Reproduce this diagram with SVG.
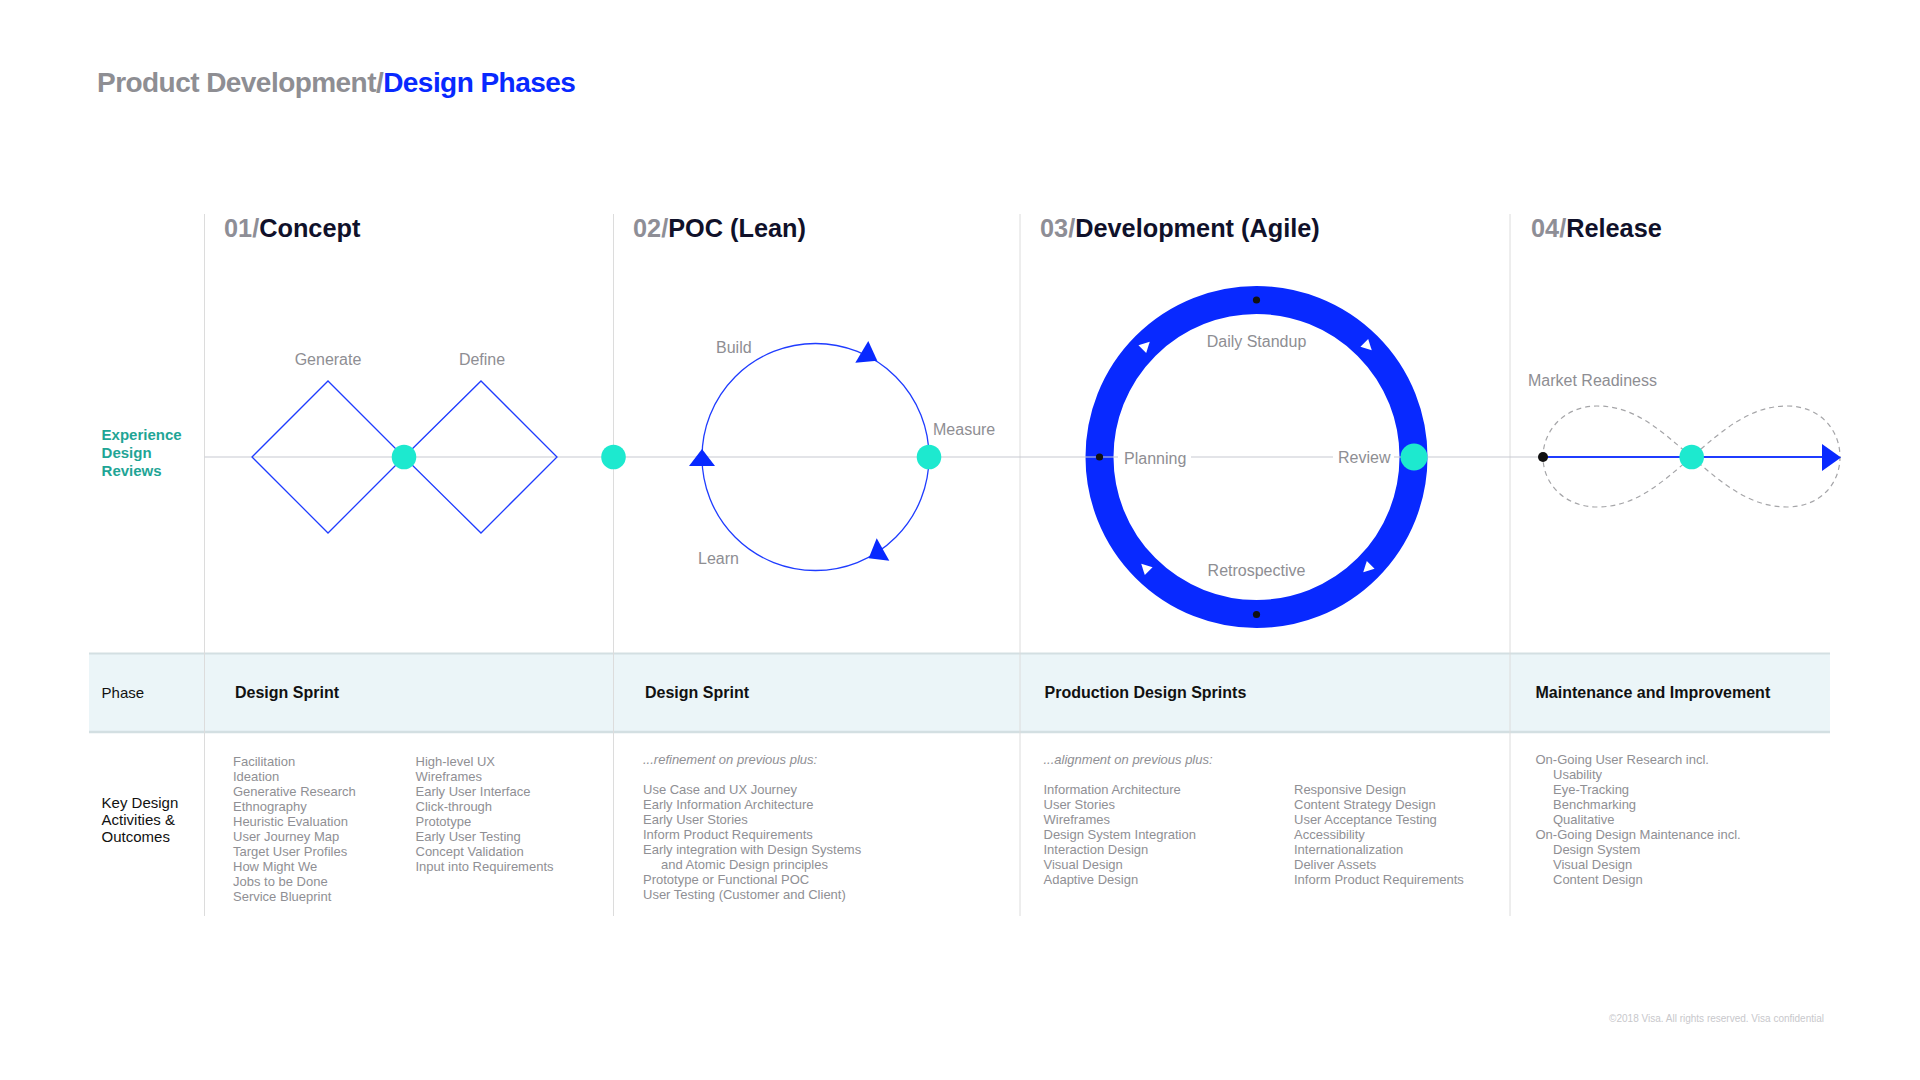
<svg xmlns="http://www.w3.org/2000/svg" width="1920" height="1080" viewBox="0 0 1920 1080">
<style>
text{font-family:"Liberation Sans",Arial,Helvetica,sans-serif}
.colline{stroke:#dcdcdc;stroke-width:1}
.axis{stroke:#c8cad2;stroke-width:1.2;fill:none}
.lbl{font-size:16px;fill:#8e8e93}
.hdr{font-size:25.3px;font-weight:bold;fill:#10112a}
.num{fill:#8e8e96}
.item{font-size:13px;fill:#8f8f94}
.ital{font-style:italic}
.teal{fill:#1de9cf}
.bline{stroke:#1f3cff;stroke-width:1.3;fill:none}
.blue{fill:#0829ff}
.dot{fill:#111}
.row{font-size:15px;fill:#111}
.phase{font-size:16px;font-weight:bold;fill:#111}
.side{font-size:15px;font-weight:bold;fill:#1fa596}
</style>
<defs>
<path id="wtri" d="M -4.5 -5.5 L 6 0 L -4.5 5.5 Z" fill="#fff"/>
</defs>
<rect width="1920" height="1080" fill="#fff"/>

<g id="title">
<text x="97" y="92" font-size="28" font-weight="bold" letter-spacing="-0.55"><tspan fill="#8e8e93">Product Development/</tspan><tspan fill="#0829ff">Design Phases</tspan></text>
</g>

<g id="table-band">
<rect x="89" y="653" width="1741" height="79" fill="#ebf5f8"/>
<line x1="89" y1="653.5" x2="1830" y2="653.5" stroke="#d3dfe2" stroke-width="2"/>
<line x1="89" y1="732" x2="1830" y2="732" stroke="#d3dfe2" stroke-width="2.5"/>
</g>

<g id="column-lines">
<line class="colline" x1="204.5" y1="214" x2="204.5" y2="916"/>
<line class="colline" x1="613.5" y1="214" x2="613.5" y2="916"/>
<line class="colline" x1="1020" y1="214" x2="1020" y2="916"/>
<line class="colline" x1="1510" y1="214" x2="1510" y2="916"/>
</g>

<g id="headers">
<text class="hdr" x="224" y="237"><tspan class="num">01/</tspan>Concept</text>
<text class="hdr" x="633" y="237"><tspan class="num">02/</tspan>POC (Lean)</text>
<text class="hdr" x="1040" y="237"><tspan class="num">03/</tspan>Development (Agile)</text>
<text class="hdr" x="1531" y="237"><tspan class="num">04/</tspan>Release</text>
</g>

<g id="side-labels">
<text class="side" x="101.6" y="440">Experience</text>
<text class="side" x="101.6" y="458">Design</text>
<text class="side" x="101.6" y="476">Reviews</text>
<text class="row" x="101.6" y="698">Phase</text>
<text class="row" x="101.6" y="808">Key Design</text>
<text class="row" x="101.6" y="825">Activities &amp;</text>
<text class="row" x="101.6" y="842">Outcomes</text>
</g>

<g id="agile-ring">
<circle cx="1256.5" cy="457" r="157" fill="none" stroke="#0829ff" stroke-width="28"/>
</g>

<g id="connectors">
<line class="axis" x1="204.5" y1="457" x2="1118" y2="457"/>
<line class="axis" x1="1191" y1="457" x2="1333" y2="457"/>
<line class="axis" x1="1394" y1="457" x2="1543" y2="457"/>
<path d="M1691.7,457 C1660,430 1635,406 1597,406 C1565,406 1543,430 1543,457 C1543,484 1565,507 1597,507 C1635,507 1660,484 1691.7,457 C1723,430 1750,406 1787,406 C1820,406 1840,430 1840,457 C1840,484 1820,507 1787,507 C1750,507 1723,484 1691.7,457 Z" fill="none" stroke="#a5a5a8" stroke-width="1.2" stroke-dasharray="5 4"/>
<line x1="1543" y1="457" x2="1824" y2="457" stroke="#1f3cff" stroke-width="2"/>
<polygon class="blue" points="1822,444 1841,457.5 1822,471"/>
</g>

<g id="concept">
<polygon class="bline" points="252,457 328,381 404,457 328,533"/>
<polygon class="bline" points="404,457 481,381 557,457 481,533"/>
<text class="lbl" x="328" y="365" text-anchor="middle">Generate</text>
<text class="lbl" x="482" y="365" text-anchor="middle">Define</text>
<circle class="teal" cx="404" cy="457" r="12.3"/>
</g>

<g id="review-gate">
<circle class="teal" cx="613.5" cy="457" r="12.3"/>
</g>

<g id="poc">
<circle class="bline" cx="815.5" cy="457" r="113.5"/>
<polygon class="blue" points="702,449 689,466 715,466"/>
<polygon class="blue" points="868.3,341 855.3,362.7 877.3,360.7"/>
<polygon class="blue" points="876.7,538.3 868.7,558.3 889.3,560.7"/>
<text class="lbl" x="716" y="353">Build</text>
<text class="lbl" x="933" y="435">Measure</text>
<text class="lbl" x="698" y="564">Learn</text>
<circle class="teal" cx="929" cy="457" r="12.3"/>
</g>

<g id="agile">
<circle class="dot" cx="1256.5" cy="300" r="3.6"/>
<circle class="dot" cx="1256.5" cy="614.5" r="3.6"/>
<circle class="dot" cx="1099.5" cy="457" r="3.6"/>
<use href="#wtri" transform="translate(1145.5,346) rotate(-45)"/>
<use href="#wtri" transform="translate(1367.5,346) rotate(45)"/>
<use href="#wtri" transform="translate(1367.5,568) rotate(135)"/>
<use href="#wtri" transform="translate(1145.5,568) rotate(-135)"/>
<text class="lbl" x="1256.5" y="347" text-anchor="middle">Daily Standup</text>
<text class="lbl" x="1256.5" y="576" text-anchor="middle">Retrospective</text>
<text class="lbl" x="1124" y="464">Planning</text>
<text class="lbl" x="1338" y="463">Review</text>
<circle class="teal" cx="1414" cy="457" r="13.5"/>
</g>

<g id="release">
<text class="lbl" x="1528" y="386">Market Readiness</text>
<circle class="dot" cx="1543" cy="457" r="5"/>
<circle class="teal" cx="1691.7" cy="457" r="12.3"/>
</g>

<g id="phase-names">
<text class="phase" x="235" y="698">Design Sprint</text>
<text class="phase" x="645" y="698">Design Sprint</text>
<text class="phase" x="1044.5" y="698">Production Design Sprints</text>
<text class="phase" x="1535.5" y="698">Maintenance and Improvement</text>
</g>

<g id="activities-concept">
<text class="item" x="233" y="766"><tspan x="233">Facilitation</tspan><tspan x="233" dy="15">Ideation</tspan><tspan x="233" dy="15">Generative Research</tspan><tspan x="233" dy="15">Ethnography</tspan><tspan x="233" dy="15">Heuristic Evaluation</tspan><tspan x="233" dy="15">User Journey Map</tspan><tspan x="233" dy="15">Target User Profiles</tspan><tspan x="233" dy="15">How Might We</tspan><tspan x="233" dy="15">Jobs to be Done</tspan><tspan x="233" dy="15">Service Blueprint</tspan></text>
<text class="item" x="415.5" y="766"><tspan x="415.5">High-level UX</tspan><tspan x="415.5" dy="15">Wireframes</tspan><tspan x="415.5" dy="15">Early User Interface</tspan><tspan x="415.5" dy="15">Click-through</tspan><tspan x="415.5" dy="15">Prototype</tspan><tspan x="415.5" dy="15">Early User Testing</tspan><tspan x="415.5" dy="15">Concept Validation</tspan><tspan x="415.5" dy="15">Input into Requirements</tspan></text>
</g>

<g id="activities-poc">
<text class="item ital" x="643" y="764">...refinement on previous plus:</text>
<text class="item" x="643" y="794"><tspan x="643">Use Case and UX Journey</tspan><tspan x="643" dy="15">Early Information Architecture</tspan><tspan x="643" dy="15">Early User Stories</tspan><tspan x="643" dy="15">Inform Product Requirements</tspan><tspan x="643" dy="15">Early integration with Design Systems</tspan><tspan x="661" dy="15">and Atomic Design principles</tspan><tspan x="643" dy="15">Prototype or Functional POC</tspan><tspan x="643" dy="15">User Testing (Customer and Client)</tspan></text>
</g>

<g id="activities-agile">
<text class="item ital" x="1043.5" y="764">...alignment on previous plus:</text>
<text class="item" x="1043.5" y="794"><tspan x="1043.5">Information Architecture</tspan><tspan x="1043.5" dy="15">User Stories</tspan><tspan x="1043.5" dy="15">Wireframes</tspan><tspan x="1043.5" dy="15">Design System Integration</tspan><tspan x="1043.5" dy="15">Interaction Design</tspan><tspan x="1043.5" dy="15">Visual Design</tspan><tspan x="1043.5" dy="15">Adaptive Design</tspan></text>
<text class="item" x="1294" y="794"><tspan x="1294">Responsive Design</tspan><tspan x="1294" dy="15">Content Strategy Design</tspan><tspan x="1294" dy="15">User Acceptance Testing</tspan><tspan x="1294" dy="15">Accessibility</tspan><tspan x="1294" dy="15">Internationalization</tspan><tspan x="1294" dy="15">Deliver Assets</tspan><tspan x="1294" dy="15">Inform Product Requirements</tspan></text>
</g>

<g id="activities-release">
<text class="item" x="1535.5" y="764"><tspan x="1535.5">On-Going User Research incl.</tspan><tspan x="1553" dy="15">Usability</tspan><tspan x="1553" dy="15">Eye-Tracking</tspan><tspan x="1553" dy="15">Benchmarking</tspan><tspan x="1553" dy="15">Qualitative</tspan><tspan x="1535.5" dy="15">On-Going Design Maintenance incl.</tspan><tspan x="1553" dy="15">Design System</tspan><tspan x="1553" dy="15">Visual Design</tspan><tspan x="1553" dy="15">Content Design</tspan></text>
</g>

<g id="footer">
<text x="1824" y="1022" font-size="10" fill="#c8c8cc" text-anchor="end">©2018 Visa. All rights reserved. Visa confidential</text>
</g>
</svg>
